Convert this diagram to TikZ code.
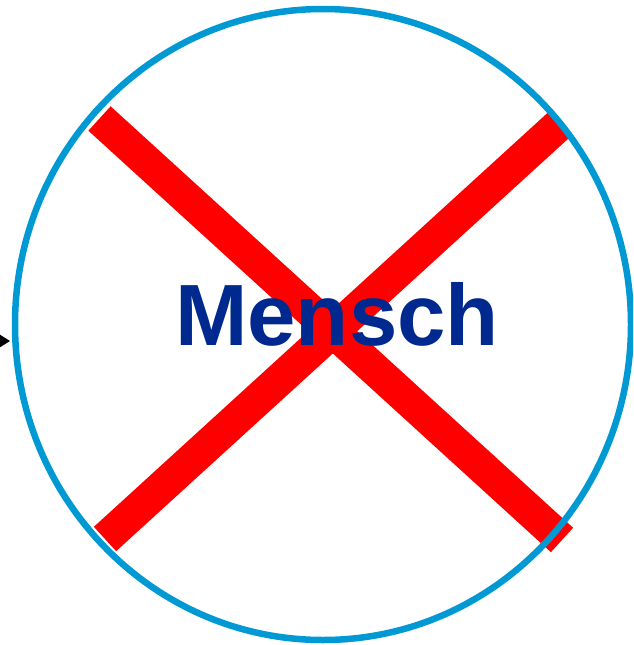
\documentclass[tikz,border=0pt]{standalone}
\usepackage{fontspec}
\setmainfont{Liberation Sans}
\usetikzlibrary{arrows.meta}
\definecolor{ringblue}{RGB}{0,153,212}
\definecolor{textblue}{RGB}{0,41,143}
\begin{document}
\begin{tikzpicture}[x=1pt, y=-1pt,
    cross/.style={line width=33pt, red},
    ring/.style={line width=6.5pt, ringblue},
    label/.style={font=\fontsize{87}{90}\selectfont\bfseries, text=textblue, inner sep=0pt, anchor=base}]
        \useasboundingbox (0,0) rectangle (633,645);
        \clip (0,0) rectangle (633,645);

        \coordinate (ul) at (99.5,118.5);
        \coordinate (lr) at (562,540);
        \coordinate (ur) at (561.5,122.5);
        \coordinate (ll) at (105,539);
        \draw[cross] (ul) -- (lr);
        \draw[cross] (ur) -- (ll);

        \coordinate (center) at (323,324.5);
        \draw[ring] (center) ellipse [x radius=308, y radius=315.5];

        \node[label] (mensch) at (337,345) {Mensch};

        \coordinate (arrowstart) at (-40,341);
        \coordinate (arrowend) at (10,341);
        \draw[-{Stealth[length=16pt, width=20pt]}, line width=2.5pt] (arrowstart) -- (arrowend);
    \end{tikzpicture}
\end{document}
